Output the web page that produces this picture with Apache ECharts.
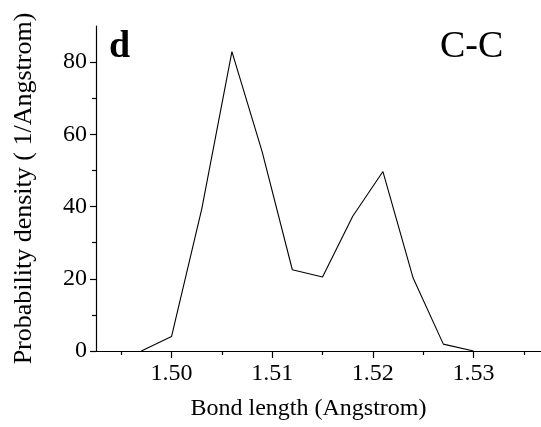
<!DOCTYPE html>
<html>
<head>
<meta charset="utf-8">
<script src="https://cdn.jsdelivr.net/npm/echarts@6/dist/echarts.min.js"></script>
<style>
  html, body { margin: 0; padding: 0; background: #fff; }
  #chart { width: 541px; height: 427px; }
</style>
</head>
<body>
<div id="chart"></div>
<script>
// C-C bond length distribution
const bondLength = [1.497, 1.500, 1.503, 1.506, 1.509, 1.512, 1.515, 1.518, 1.521, 1.524, 1.527, 1.530];
const density    = [0, 4, 39.3, 82.9, 55.2, 22.5, 20.5, 37.3, 49.7, 20.2, 1.9, 0];

const xMajorTicks = [1.50, 1.51, 1.52, 1.53];
const xMinorTicks = [1.495, 1.505, 1.515, 1.525, 1.535];
const yMajorTicks = [0, 20, 40, 60, 80];
const yMinorTicks = [10, 30, 50, 70];

const serif = '"Liberation Serif", "Times New Roman", serif';
const xMin = 1.4925, xMax = 1.5367, yMin = 0, yMax = 90;

const chart = echarts.init(document.getElementById('chart'), null, { renderer: 'canvas' });

const lineStyle = { color: '#000', width: 1.2 };

chart.setOption({
  animation: false,
  backgroundColor: '#fff',
  grid: { left: 96, right: 0, top: 26, bottom: 76, containLabel: false },
  xAxis: [
    {
      type: 'value', min: xMin, max: xMax,
      axisLine: { show: true, onZero: false, lineStyle },
      axisTick: { show: true, inside: false, length: 7, lineStyle, customValues: xMajorTicks },
      axisLabel: {
        customValues: xMajorTicks, margin: 11,
        color: '#000', fontFamily: serif, fontSize: 24,
        formatter: v => v.toFixed(2)
      },
      splitLine: { show: false },
      name: 'Bond length (Angstrom)', nameLocation: 'middle', nameGap: 46,
      nameTextStyle: { color: '#000', fontFamily: serif, fontSize: 24, padding: [0, 20, 0, 0] }
    },
    {
      type: 'value', min: xMin, max: xMax, position: 'bottom',
      axisLine: { show: false, onZero: false },
      axisTick: { show: true, length: 4, lineStyle, customValues: xMinorTicks },
      axisLabel: { show: false },
      splitLine: { show: false }
    }
  ],
  yAxis: [
    {
      type: 'value', min: yMin, max: yMax,
      axisLine: { show: true, onZero: false, lineStyle },
      axisTick: { show: true, length: 6, lineStyle, customValues: yMajorTicks },
      axisLabel: {
        customValues: yMajorTicks, margin: 9,
        color: '#000', fontFamily: serif, fontSize: 24
      },
      splitLine: { show: false },
      name: 'Probability density ( 1/Angstrom)', nameLocation: 'middle', nameGap: 59,
      nameTextStyle: { color: '#000', fontFamily: serif, fontSize: 26 }
    },
    {
      type: 'value', min: yMin, max: yMax, position: 'left',
      axisLine: { show: false, onZero: false },
      axisTick: { show: true, length: 4, lineStyle, customValues: yMinorTicks },
      axisLabel: { show: false },
      splitLine: { show: false }
    }
  ],
  graphic: [
    {
      type: 'text', left: 109, top: 28,
      style: { text: 'd', fill: '#000', font: 'bold 38px ' + serif }
    },
    {
      type: 'text', left: 440, top: 28,
      style: { text: 'C-C', fill: '#000', font: '38px ' + serif }
    }
  ],
  series: [
    {
      type: 'line',
      xAxisIndex: 0, yAxisIndex: 0,
      data: bondLength.map((x, i) => [x, density[i]]),
      showSymbol: false,
      lineStyle: { color: '#000', width: 1.1 },
      clip: false
    }
  ]
});
</script>
</body>
</html>
